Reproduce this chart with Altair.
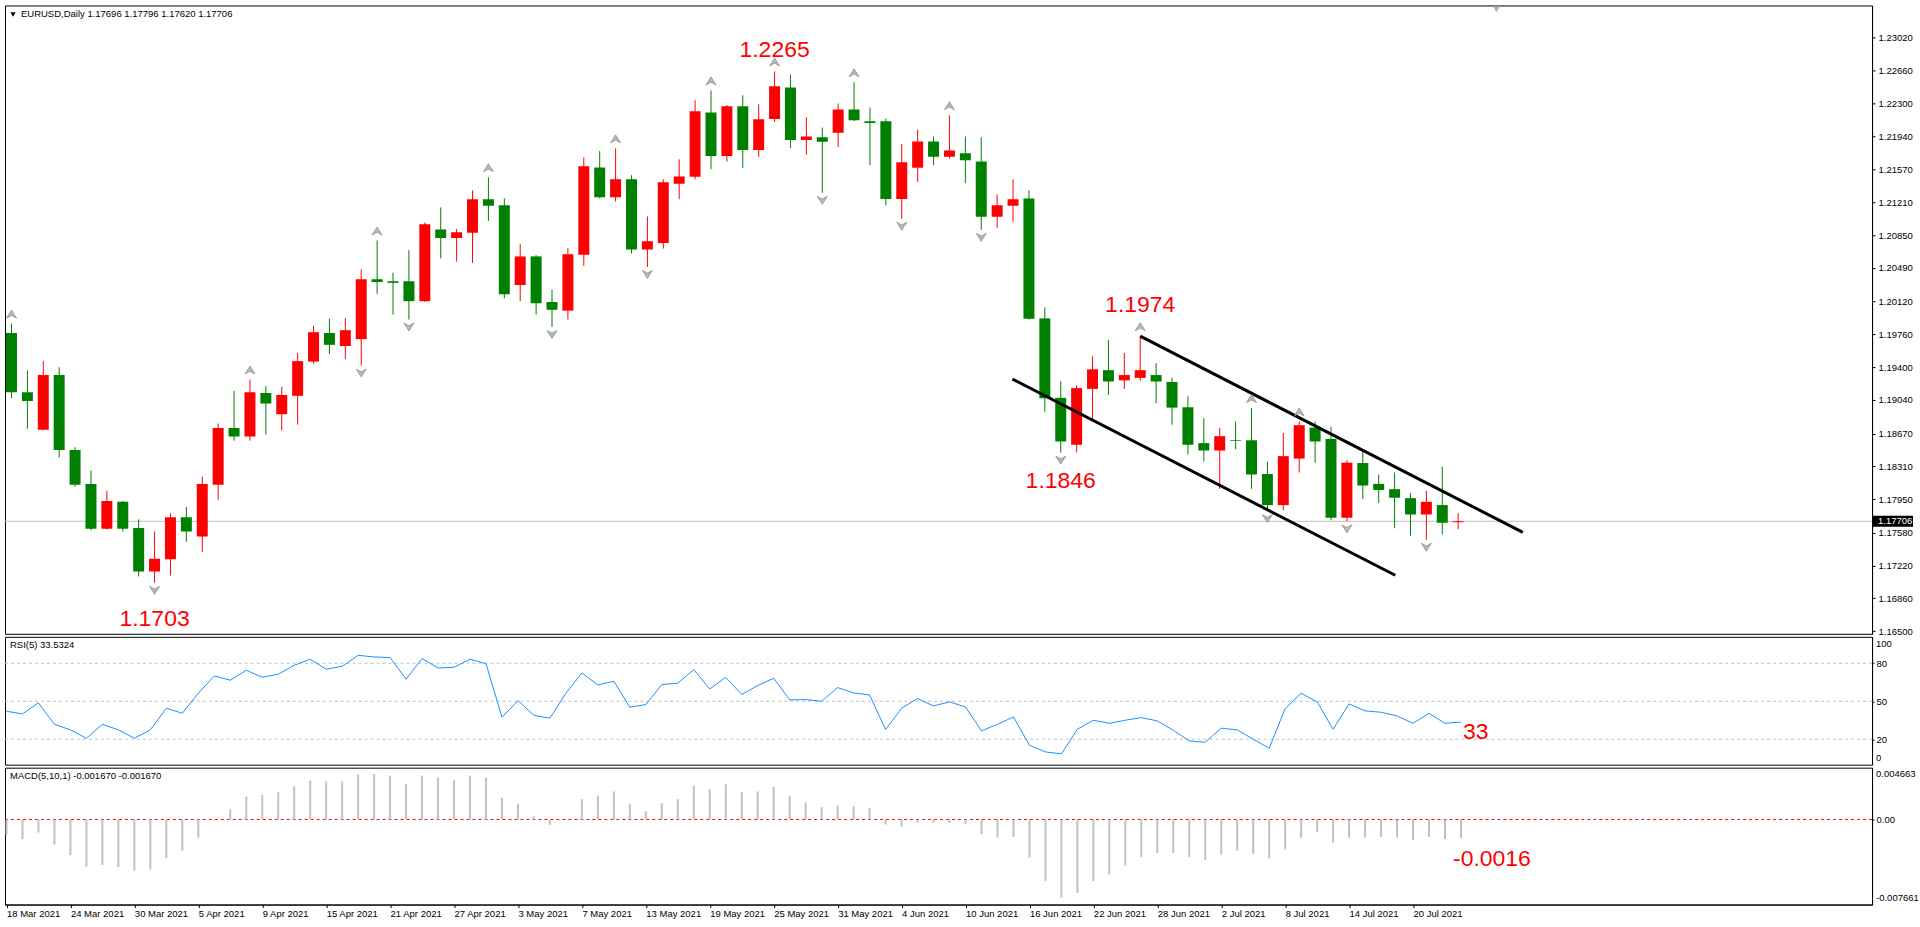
import altair as alt
import pandas as pd

FONT = "Liberation Sans"

# ---------------- data ----------------
symbol = "EURUSD,Daily"
tick_labels = ["18 Mar 2021", "24 Mar 2021", "30 Mar 2021", "5 Apr 2021", "9 Apr 2021",
               "15 Apr 2021", "21 Apr 2021", "27 Apr 2021", "3 May 2021", "7 May 2021",
               "13 May 2021", "19 May 2021", "25 May 2021", "31 May 2021", "4 Jun 2021",
               "10 Jun 2021", "16 Jun 2021", "22 Jun 2021", "28 Jun 2021", "2 Jul 2021",
               "8 Jul 2021", "14 Jul 2021", "20 Jul 2021"]

opens = [1.19775, 1.19125, 1.18713, 1.19313, 1.18489, 1.18117, 1.17624, 1.17920, 1.17633, 1.17154,
         1.17288, 1.17750, 1.17539, 1.18108, 1.18731, 1.18637, 1.19116, 1.18883, 1.19085, 1.19461,
         1.19775, 1.19632, 1.19708, 1.20366, 1.20344, 1.20344, 1.20125, 1.20913, 1.20819, 1.20877,
         1.21245, 1.21178, 1.20304, 1.20617, 1.20116, 1.20021, 1.20635, 1.21594, 1.21267, 1.21464,
         1.20694, 1.20765, 1.21415, 1.21491, 1.22199, 1.21720, 1.22266, 1.21787, 1.22128, 1.22473,
         1.21895, 1.21926, 1.21975, 1.22231, 1.22101, 1.22101, 1.21249, 1.21590, 1.21881, 1.21711,
         1.21751, 1.21661, 1.21052, 1.21173, 1.21254, 1.19936, 1.19063, 1.18547, 1.19161, 1.19367,
         1.19255, 1.19282, 1.19313, 1.19237, 1.18959, 1.18565, 1.18484, 1.18596, 1.18596, 1.18225,
         1.17884, 1.18395, 1.18735, 1.18610, 1.17745, 1.18346, 1.18117, 1.18059, 1.17960, 1.17781,
         1.17884, 1.17696]
highs = [1.19878, 1.19363, 1.19466, 1.19399, 1.18520, 1.18265, 1.18041, 1.17929, 1.17727, 1.17593,
         1.17794, 1.17862, 1.18198, 1.18780, 1.19139, 1.19264, 1.19192, 1.19184, 1.19555, 1.19856,
         1.19932, 1.19941, 1.20474, 1.20792, 1.20438, 1.20685, 1.20989, 1.21155, 1.20918, 1.21343,
         1.21487, 1.21254, 1.20752, 1.20631, 1.20254, 1.20707, 1.21706, 1.21774, 1.21805, 1.21509,
         1.21057, 1.21464, 1.21684, 1.22334, 1.22441, 1.22280, 1.22387, 1.22289, 1.22650, 1.22616,
         1.22145, 1.22033, 1.22298, 1.22531, 1.22253, 1.22132, 1.21850, 1.22011, 1.21935, 1.22168,
         1.21935, 1.21926, 1.21299, 1.21464, 1.21343, 1.20057, 1.19246, 1.19201, 1.19520, 1.19699,
         1.19555, 1.19740, 1.19443, 1.19287, 1.19080, 1.18838, 1.18731, 1.18803, 1.18950, 1.18363,
         1.18677, 1.18803, 1.18803, 1.18744, 1.18377, 1.18498, 1.18220, 1.18242, 1.18018, 1.18041,
         1.18305, 1.17796]
lows = [1.19058, 1.18722, 1.18704, 1.18408, 1.18086, 1.17606, 1.17615, 1.17593, 1.17100, 1.17030,
        1.17109, 1.17481, 1.17369, 1.17942, 1.18592, 1.18592, 1.18659, 1.18704, 1.18767, 1.19439,
        1.19542, 1.19488, 1.19417, 1.20205, 1.19977, 1.19923, 1.20116, 1.20595, 1.20559, 1.20546,
        1.21007, 1.20156, 1.20125, 1.19977, 1.19842, 1.19923, 1.20514, 1.21254, 1.21218, 1.20649,
        1.20501, 1.20703, 1.21245, 1.21464, 1.21576, 1.21657, 1.21590, 1.21711, 1.22096, 1.21809,
        1.21733, 1.21316, 1.21818, 1.22105, 1.21621, 1.21178, 1.21030, 1.21437, 1.21621, 1.21693,
        1.21424, 1.20909, 1.20931, 1.20998, 1.19923, 1.18910, 1.18460, 1.18462, 1.18803, 1.19094,
        1.19161, 1.19251, 1.19004, 1.18767, 1.18440, 1.18363, 1.18063, 1.18498, 1.18063, 1.17817,
        1.17826, 1.18242, 1.18350, 1.17718, 1.17705, 1.17951, 1.17906, 1.17629, 1.17548, 1.17503,
        1.17561, 1.17620]
closes = [1.19125, 1.19027, 1.19313, 1.18489, 1.18108, 1.17624, 1.17929, 1.17624, 1.17154, 1.17293,
          1.17750, 1.17593, 1.18117, 1.18731, 1.18637, 1.19125, 1.19000, 1.19094, 1.19466, 1.19784,
          1.19645, 1.19806, 1.20366, 1.20335, 1.20326, 1.20125, 1.20971, 1.20819, 1.20882, 1.21245,
          1.21173, 1.20201, 1.20617, 1.20102, 1.20030, 1.20640, 1.21608, 1.21267, 1.21464, 1.20694,
          1.20783, 1.21433, 1.21496, 1.22213, 1.21720, 1.22266, 1.21787, 1.22123, 1.22486, 1.21895,
          1.21935, 1.21877, 1.22231, 1.22114, 1.22083, 1.21249, 1.21653, 1.21881, 1.21711, 1.21782,
          1.21675, 1.21052, 1.21178, 1.21245, 1.19932, 1.19058, 1.18583, 1.19170, 1.19376, 1.19242,
          1.19313, 1.19367, 1.19242, 1.18955, 1.18547, 1.18484, 1.18641, 1.18588, 1.18220, 1.17884,
          1.18422, 1.18762, 1.18583, 1.17745, 1.18350, 1.18099, 1.18050, 1.17965, 1.17781, 1.17920,
          1.17691, 1.17706]
rsi_values = [42.1, 40.0, 48.7, 31.8, 27.4, 20.8, 31.8, 27.4, 20.8, 27.4,
              44.5, 40.5, 56.3, 70.0, 66.6, 74.5, 68.9, 71.3, 78.4, 83.2,
              75.3, 77.6, 86.3, 85.0, 84.5, 67.4, 83.7, 76.3, 76.8, 83.2,
              79.7, 37.4, 50.5, 38.9, 36.6, 56.3, 72.4, 62.9, 65.8, 45.3,
              47.4, 63.2, 64.2, 75.0, 59.7, 68.9, 55.3, 62.4, 68.2, 51.1,
              51.3, 50.0, 60.8, 56.6, 55.0, 27.6, 44.5, 52.1, 46.3, 49.5,
              45.5, 26.6, 31.8, 37.6, 15.3, 10.0, 8.4, 27.9, 35.0, 32.6,
              35.0, 37.1, 34.5, 27.1, 18.7, 17.6, 28.7, 27.4, 20.0, 12.9,
              44.2, 56.3, 49.5, 27.9, 47.9, 42.4, 41.3, 38.4, 32.6, 40.5,
              32.6, 33.5324]
macd_values = [-0.00141, -0.00177, -0.00117, -0.00225, -0.00321, -0.00426, -0.00411, -0.00429, -0.00462, -0.00450,
               -0.00348, -0.00282, -0.00165, -0.00010, 0.00093, 0.00204, 0.00222, 0.00246, 0.00300, 0.00348,
               0.00345, 0.00345, 0.00402, 0.00408, 0.00393, 0.00318, 0.00393, 0.00378, 0.00354, 0.00393,
               0.00375, 0.00195, 0.00141, 0.00030, -0.00048, 0.00003, 0.00183, 0.00213, 0.00252, 0.00141,
               0.00075, 0.00147, 0.00183, 0.00303, 0.00273, 0.00318, 0.00249, 0.00252, 0.00294, 0.00213,
               0.00156, 0.00111, 0.00123, 0.00120, 0.00105, -0.00045, -0.00066, -0.00030, -0.00030, -0.00030,
               -0.00042, -0.00132, -0.00162, -0.00156, -0.00345, -0.00552, -0.00705, -0.00660, -0.00555, -0.00495,
               -0.00417, -0.00336, -0.00300, -0.00300, -0.00336, -0.00366, -0.00315, -0.00282, -0.00312, -0.00351,
               -0.00270, -0.00165, -0.00114, -0.00210, -0.00165, -0.00162, -0.00156, -0.00162, -0.00186, -0.00156,
               -0.00177, -0.00167]
fractal_up = [0, 15, 23, 30, 38, 44, 48, 53, 59, 71, 78, 81]
fractal_down = [9, 22, 25, 34, 40, 51, 56, 61, 66, 79, 84, 89]

price_ticks = [1.23020, 1.22660, 1.22300, 1.21940, 1.21570, 1.21210, 1.20850, 1.20490, 1.20120,
               1.19760, 1.19400, 1.19040, 1.18670, 1.18310, 1.17950, 1.17580, 1.17220, 1.16860, 1.16500]
rsi_levels = [20, 50, 80]
rsi_ends = [100, 0]
macd_max = 0.004663
macd_min = -0.007661

ann_bars = [48, 9, 66, 71]
ann_prices = [1.2265, 1.1703, 1.1846, 1.1974]
ann_texts = ["1.2265", "1.1703", "1.1846", "1.1974"]
ann_dy = [-14, 43, 35, -24.5]

upper_idx = [71, 95.07]
upper_price = [1.1974, 1.17584]
lower_idx = [62.96, 87.04]
lower_price = [1.19269, 1.17113]

rsi_note = "33"
macd_note = "-0.0016"

# ---------------- layout ----------------
W = 1869
H_MAIN, H_RSI, H_MACD = 629, 128, 137
x_dom = [-0.09375, 116.71875]
price_dom = [1.164693, 1.233746]
rsi_dom = [-0.1, 100.9]
macd_dom = [macd_min, macd_max]

n = len(opens)
df = pd.DataFrame({"idx": list(range(n)), "open": opens, "high": highs, "low": lows,
                   "close": closes, "rsi": rsi_values, "macd": macd_values})
df["col"] = ["#ff0000" if c >= o else "#008000" for o, c in zip(opens, closes)]

xscale = alt.Scale(domain=x_dom, nice=False, zero=False)

date_expr = "[" + ",".join("'%s'" % s for s in tick_labels) + "][round(datum.value / 4)]"
date_axis = alt.Axis(values=list(range(0, 4 * len(tick_labels), 4)), labelExpr=date_expr,
                     labelAlign="left", tickSize=3, labelPadding=1, labelBaseline="top",
                     labelFontSize=9.5, labelFont=FONT, grid=False, title=None,
                     labelOverlap=False, labelFlush=False)


def X(axis=None):
    return alt.X("idx:Q", scale=xscale, axis=axis)


price_axis = alt.Axis(orient="right", values=price_ticks, format=".5f", tickSize=3, labelPadding=3,
                      labelFontSize=9.5, labelFont=FONT, grid=False, title=None, labelOverlap=False)


def PY(field):
    return alt.Y(field + ":Q", scale=alt.Scale(domain=price_dom, nice=False, zero=False), axis=price_axis)


rsi_axis = alt.Axis(orient="right", values=rsi_levels, format="d", tickSize=2, labelPadding=2,
                    labelFontSize=9.5, labelFont=FONT, grid=False, title=None, labelOverlap=False)


def RY(field):
    return alt.Y(field + ":Q", scale=alt.Scale(domain=rsi_dom, nice=False, zero=False), axis=rsi_axis)


macd_axis = alt.Axis(orient="right", values=[0.0], tickSize=2, labelPadding=2,
                     labelExpr="'0.00'", labelFontSize=9.5, labelFont=FONT, grid=False, title=None,
                     labelOverlap=False)


def MY(field):
    return alt.Y(field + ":Q", scale=alt.Scale(domain=macd_dom, nice=False, zero=False), axis=macd_axis)


UP_PATH = "M0,-0.6 L0.75,0.6 L0,0.2 L-0.75,0.6 Z"
DOWN_PATH = "M0,0.6 L0.75,-0.6 L0,-0.2 L-0.75,-0.6 Z"


def side_label(df_, ych, dy):
    return alt.Chart(df_).mark_text(font=FONT, fontSize=9.5, color="black", align="left",
                                    baseline="middle", dy=dy).encode(
        x=alt.value(W + 4), y=ych, text="t:N")


# ---------------- main panel ----------------
last = pd.DataFrame({"p": [closes[-1]], "t": ["%.5f" % closes[-1]]})
price_line = alt.Chart(last).mark_rule(color="#c0c0c0", strokeWidth=1).encode(y=PY("p"))

wicks = alt.Chart(df).mark_rule(strokeWidth=1, clip=True).encode(
    x=X(), y=PY("low"), y2="high", color=alt.Color("col:N", scale=None))
bodies = alt.Chart(df).mark_bar(size=11, clip=True).encode(
    x=X(), y=PY("open"), y2="close", color=alt.Color("col:N", scale=None))

tdf = pd.DataFrame({"idx": upper_idx + lower_idx, "price": upper_price + lower_price,
                    "line": ["upper"] * len(upper_idx) + ["lower"] * len(lower_idx)})
trend = alt.Chart(tdf).mark_line(color="black", strokeWidth=3).encode(
    x=X(), y=PY("price"), detail="line:N")

frac_up = alt.Chart(df[df["idx"].isin(fractal_up)]).mark_point(
    shape=UP_PATH, size=180, filled=True, fill="#b8b8b8", stroke="#7a7a7a", strokeWidth=0.6,
    opacity=1, yOffset=-9.5).encode(x=X(), y=PY("high"))
frac_down = alt.Chart(df[df["idx"].isin(fractal_down)]).mark_point(
    shape=DOWN_PATH, size=180, filled=True, fill="#b8b8b8", stroke="#7a7a7a", strokeWidth=0.6,
    opacity=1, yOffset=7.5).encode(x=X(), y=PY("low"))

ann_layers = []
for b, p, s, d in zip(ann_bars, ann_prices, ann_texts, ann_dy):
    ann_layers.append(
        alt.Chart(pd.DataFrame({"idx": [b], "price": [p], "t": [s]})).mark_text(
            font=FONT, fontSize=23, color="#ff0000", align="center", baseline="alphabetic", dy=d
        ).encode(x=X(), y=PY("price"), text="t:N"))

header_txt = "%s  %.5f %.5f %.5f %.5f" % (symbol, opens[-1], highs[-1], lows[-1], closes[-1])
header = alt.Chart(pd.DataFrame({"t": [header_txt]})).mark_text(
    font=FONT, fontSize=9.5, align="left", baseline="alphabetic", color="black"
).encode(x=alt.value(16), y=alt.value(11.7), text="t:N")
header_tri = alt.Chart(pd.DataFrame({"a": [0]})).mark_point(
    shape="triangle-down", filled=True, color="black", size=26, opacity=1
).encode(x=alt.value(8), y=alt.value(9))
shift_marker = alt.Chart(pd.DataFrame({"a": [0]})).mark_point(
    shape="triangle-down", filled=True, color="#b0b0b0", size=45, opacity=1
).encode(x=alt.value(1493), y=alt.value(4))

box = alt.Chart(last).mark_rule(color="black", strokeWidth=11, strokeCap="butt").encode(
    x=alt.value(W), x2=alt.value(W + 41), y=PY("p"))
box_text = alt.Chart(last).mark_text(
    font=FONT, fontSize=9.5, color="white", align="left", baseline="middle"
).encode(x=alt.value(W + 6), y=PY("p"), text="t:N")

main = alt.layer(price_line, wicks, bodies, trend, frac_up, frac_down, *ann_layers,
                 header, header_tri, shift_marker, box, box_text).properties(width=W, height=H_MAIN)

# ---------------- RSI panel ----------------
rsi_lv = alt.Chart(pd.DataFrame({"lvl": rsi_levels})).mark_rule(
    color="#c0c0c0", strokeDash=[3, 3], strokeWidth=1).encode(y=RY("lvl"))
rsi_line = alt.Chart(df).mark_line(color="#1e90ff", strokeWidth=1).encode(x=X(), y=RY("rsi"))
rsi_head = alt.Chart(pd.DataFrame({"t": ["RSI(5) %.4f" % rsi_values[-1]]})).mark_text(
    font=FONT, fontSize=9.5, align="left", baseline="alphabetic", color="black"
).encode(x=alt.value(5), y=alt.value(11.3), text="t:N")
rsi_txt = alt.Chart(pd.DataFrame({"idx": [n - 1], "v": [rsi_values[-1]], "t": [rsi_note]})).mark_text(
    font=FONT, fontSize=23, color="#ff0000", align="left", baseline="alphabetic", dx=2, dy=17
).encode(x=X(), y=RY("v"), text="t:N")
rsi_top = side_label(pd.DataFrame({"v": [rsi_ends[0]], "t": [str(rsi_ends[0])]}), RY("v"), 5.6)
rsi_bot = side_label(pd.DataFrame({"v": [rsi_ends[1]], "t": [str(rsi_ends[1])]}), RY("v"), -6.6)
rsi_panel = alt.layer(rsi_lv, rsi_line, rsi_head, rsi_txt, rsi_top, rsi_bot).properties(width=W, height=H_RSI)

# ---------------- MACD panel ----------------
macd_bars = alt.Chart(df).mark_rule(color="#c0c0c0", strokeWidth=2, clip=True).encode(
    x=X(date_axis), y=MY("macd"), y2=alt.datum(0))
macd_zero = alt.Chart(pd.DataFrame({"z": [0.0]})).mark_rule(
    color="#ff0000", strokeDash=[3, 3], strokeWidth=1).encode(y=MY("z"))
macd_head = alt.Chart(pd.DataFrame({"t": ["MACD(5,10,1) %.6f %.6f" % (macd_values[-1], macd_values[-1])]})).mark_text(
    font=FONT, fontSize=9.5, align="left", baseline="alphabetic", color="black"
).encode(x=alt.value(5), y=alt.value(11.3), text="t:N")
macd_txt = alt.Chart(pd.DataFrame({"idx": [n - 1], "v": [macd_values[-1]], "t": [macd_note]})).mark_text(
    font=FONT, fontSize=23, color="#ff0000", align="left", baseline="alphabetic", dx=-8, dy=27.6
).encode(x=X(date_axis), y=MY("v"), text="t:N")
macd_top = side_label(pd.DataFrame({"v": [macd_max], "t": ["%.6f" % macd_max]}), MY("v"), 6.7)
macd_bot = side_label(pd.DataFrame({"v": [macd_min], "t": ["%.6f" % macd_min]}), MY("v"), -6.3)
macd_panel = alt.layer(macd_zero, macd_bars, macd_head, macd_txt, macd_top, macd_bot).properties(
    width=W, height=H_MACD)

chart = alt.vconcat(main, rsi_panel, macd_panel, spacing=3, bounds="flush").properties(
    padding={"left": 4, "top": 4, "right": 0, "bottom": 0}, background="white"
).configure_view(stroke="black", strokeWidth=1).configure_axis(
    labelColor="black", tickColor="black", domainColor="black")

chart.save("out.html", embed_options={"renderer": "svg", "actions": False})
